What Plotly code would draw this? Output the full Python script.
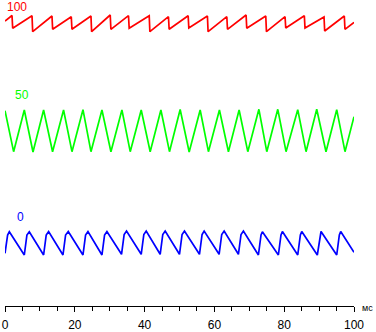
import plotly.graph_objects as go

# ---- data (time in ms, signal level in arbitrary display units) ----
red_start = [(0.0, 285.0)]
red_peak_t = [2.01, 7.74, 13.46, 18.99, 24.63, 30.15, 35.39, 41.32, 46.84, 52.48,
              58.0, 63.56, 69.08, 74.72, 80.25, 85.77, 91.41, 97.22]
red_peak_v = [290.5, 290.3, 290.0, 289.3, 290.0, 291.0, 290.3, 290.3, 289.3, 290.3,
              290.0, 289.3, 291.0, 290.0, 289.3, 290.3, 289.0, 290.0]
red_trough_t = [2.2, 7.93, 13.65, 19.18, 24.82, 30.34, 35.58, 41.51, 47.03, 52.67,
                58.19, 63.75, 69.27, 74.91, 80.44, 85.96, 91.6, 97.41]
red_trough_v = [277.7, 274.3, 276.7, 276.7, 274.3, 276.7, 277.7, 274.3, 276.7, 278.0,
                274.3, 276.7, 277.7, 274.3, 278.0, 278.0, 275.0, 276.7]
red_end = [(100.0, 283.7)]

green_peak_t = [0.0, 5.53, 11.06, 16.78, 22.34, 27.78, 33.5, 39.03, 44.67, 50.19,
                55.92, 61.44, 67.08, 72.75, 78.16, 83.88, 89.32, 95.05]
green_peak_v = [195.3, 196.0, 196.0, 196.0, 196.3, 196.0, 196.0, 196.0, 196.0, 196.5,
                196.0, 196.0, 196.0, 196.7, 196.7, 196.3, 196.7, 196.3]
green_trough_t = [2.47, 8.02, 13.63, 19.19, 24.63, 30.35, 35.88, 41.6, 47.13, 52.77,
                  58.29, 64.02, 69.57, 75.01, 80.53, 86.26, 91.98, 97.42]
green_trough_v = [154.3, 154.0, 154.3, 154.3, 154.3, 154.3, 154.3, 154.3, 154.3, 154.0,
                  154.3, 154.3, 154.3, 154.3, 154.3, 154.3, 154.3, 154.3]
green_end = [(100.0, 189.3)]

blue_start = [(0.0, 52.7), (0.37, 64.3), (0.75, 71.0)]
blue_peak_t = [1.24, 6.96, 12.49, 18.13, 23.77, 29.21, 34.82, 40.46, 45.9, 51.42,
               57.06, 62.79, 68.31, 73.75, 79.48, 85.03, 90.55, 96.19]
blue_peak_v = [74.3, 74.3, 74.5, 74.5, 74.5, 74.5, 75.0, 75.0, 75.0, 75.0,
               75.0, 75.0, 75.0, 74.3, 74.5, 74.5, 74.5, 74.5]
blue_trough_t = [5.53, 11.06, 16.61, 22.34, 27.78, 33.39, 39.03, 44.46, 49.99, 55.72,
                 61.35, 66.88, 72.61, 78.33, 83.88, 89.49, 95.05]
blue_trough_v = [51.0, 51.0, 51.0, 51.0, 51.0, 51.7, 51.7, 51.7, 51.7, 51.7,
                 51.7, 51.7, 51.0, 51.0, 51.0, 51.0, 51.0]
blue_knee_t = [6.28, 11.81, 17.36, 23.09, 28.53, 34.14, 39.78, 45.21, 50.74, 56.47,
               62.10, 67.63, 73.36, 79.08, 84.63, 90.24, 95.80]
blue_knee_v = [71.0, 71.0, 71.0, 71.0, 71.0, 71.5, 71.5, 71.5, 71.5, 71.5,
               71.5, 71.5, 71.0, 71.0, 71.0, 71.0, 71.0]
blue_end = [(100.0, 53.7)]

channel_labels = ["100", "50", "0"]
channel_colors = ["#ff0000", "#00ff00", "#0000ff"]
x_tick_vals = [0, 20, 40, 60, 80, 100]
x_unit = "мс"

# ---- build polylines from the read points ----
red_pts = list(red_start)
for i in range(len(red_peak_t)):
    red_pts.append((red_peak_t[i], red_peak_v[i]))
    red_pts.append((red_trough_t[i], red_trough_v[i]))
red_pts += red_end

green_pts = []
for i in range(len(green_peak_t)):
    green_pts.append((green_peak_t[i], green_peak_v[i]))
    green_pts.append((green_trough_t[i], green_trough_v[i]))
green_pts += green_end

blue_pts = list(blue_start)
for i in range(len(blue_peak_t)):
    blue_pts.append((blue_peak_t[i], blue_peak_v[i]))
    if i < len(blue_trough_t):
        blue_pts.append((blue_trough_t[i], blue_trough_v[i]))
        blue_pts.append((blue_knee_t[i], blue_knee_v[i]))
blue_pts += blue_end

fig = go.Figure()
for pts, col in [(red_pts, channel_colors[0]), (green_pts, channel_colors[1]),
                 (blue_pts, channel_colors[2])]:
    fig.add_trace(go.Scatter(
        x=[p[0] for p in pts], y=[p[1] for p in pts], mode="lines",
        line=dict(color=col, width=1.7), hoverinfo="skip", showlegend=False,
        cliponaxis=False,
    ))

label_pos = [(3.44, 299.5), (4.73, 211.0), (4.58, 89.5)]
for txt, col, (lx, ly) in zip(channel_labels, channel_colors, label_pos):
    fig.add_annotation(x=lx, y=ly, xref="x", yref="y", text=txt, showarrow=False,
                       font=dict(family="Arial", size=12, color=col),
                       xanchor="center", yanchor="middle")

fig.add_annotation(x=1.04, y=-0.005, xref="paper", yref="paper", text=x_unit,
                   showarrow=False, font=dict(family="Arial", size=9, color="#000000"),
                   xanchor="center", yanchor="middle")

fig.update_layout(
    width=376, height=332,
    margin=dict(l=5, r=22, t=0, b=26),
    paper_bgcolor="white", plot_bgcolor="white",
    xaxis=dict(range=[0, 100], showline=True, linecolor="black", linewidth=1,
               ticks="outside", ticklen=5, tickcolor="black", tickwidth=1,
               tickvals=x_tick_vals, showgrid=False, zeroline=False,
               tickfont=dict(family="Arial", size=12, color="black"),
               ticklabelstandoff=3,
               minor=dict(dtick=5, ticks="outside", ticklen=4, tickcolor="black",
                          tickwidth=1, showgrid=False)),
    yaxis=dict(range=[0, 306], visible=False),
)

fig.write_html("out.html")
